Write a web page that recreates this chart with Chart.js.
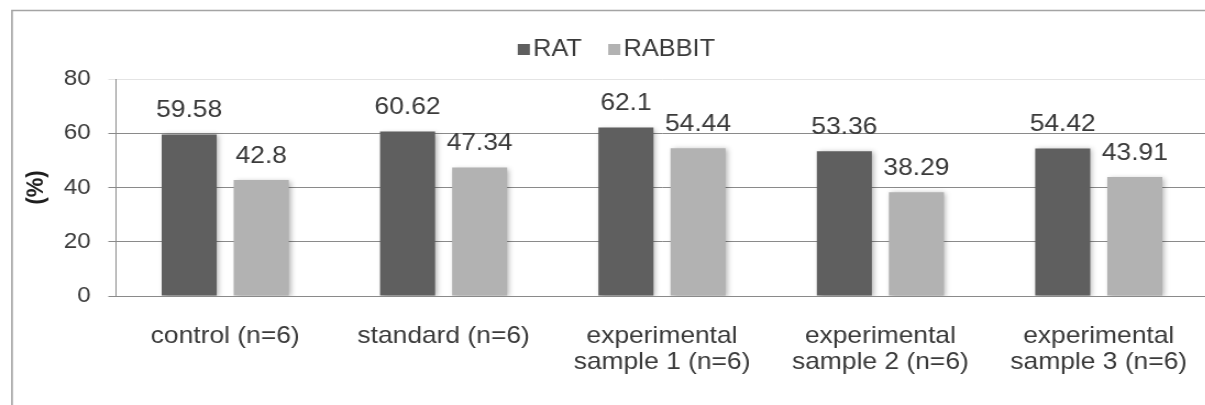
<!DOCTYPE html>
<html>
<head>
<meta charset="utf-8">
<script src="https://cdn.jsdelivr.net/npm/chart.js@4.4.1/dist/chart.umd.min.js"></script>
<style>
  html, body { margin: 0; padding: 0; background: #fff; overflow: hidden; }
  #wrap { width: 1205px; height: 405px; overflow: hidden; }
  canvas { display: block; }
</style>
</head>
<body>
<div id="wrap">
  <!-- drawn at 1104 px wide and shown 10% wider, which widens the lettering;
       the plot runs slightly past the right edge of the frame -->
  <canvas id="chart" width="1104" height="405" style="width:1214.4px;height:405px"></canvas>
</div>
<script>
// ---- data ----
const categories = [
  ['control (n=6)'],
  ['standard (n=6)'],
  ['experimental', 'sample 1 (n=6)'],
  ['experimental', 'sample 2 (n=6)'],
  ['experimental', 'sample 3 (n=6)']
];
const seriesNames = ['RAT', 'RABBIT'];
const ratValues = [59.58, 60.62, 62.1, 53.36, 54.42];
const rabbitValues = [42.8, 47.34, 54.44, 38.29, 43.91];
const yTicks = [0, 20, 40, 60, 80];
const yTitle = '(%)';

// ---- look ----
const FONT = '"Liberation Sans", Arial, sans-serif';
const TEXT = '#3a3a3a';
const GRID = '#8a8a8a';
const RAT_COLOR = '#5f5f5f';
const RABBIT_COLOR = '#b2b2b2';

// white page with the outer frame running off to the right and bottom
const framePlugin = {
  id: 'frame',
  beforeDraw(chart) {
    const { ctx, width, height } = chart;
    ctx.save();
    ctx.fillStyle = '#fff';
    ctx.fillRect(0, 0, width, height);
    ctx.strokeStyle = '#a4a4a4';
    ctx.lineWidth = 1.6;
    ctx.beginPath();
    ctx.moveTo(width + 2, 10.5);
    ctx.lineTo(10.9, 10.5);
    ctx.lineTo(10.9, height + 2);
    ctx.stroke();
    ctx.restore();
  }
};

// soft drop shadow under the bars, then the value printed above each bar
const barPlugin = {
  id: 'barDecor',
  beforeDatasetsDraw(chart) {
    const ctx = chart.ctx;
    ctx.save();
    ctx.shadowColor = 'rgba(0,0,0,0.30)';
    ctx.shadowBlur = 5;
    ctx.shadowOffsetX = 2;
    ctx.shadowOffsetY = 1;
  },
  afterDatasetsDraw(chart) {
    const ctx = chart.ctx;
    ctx.restore();
    ctx.save();
    ctx.font = '24px ' + FONT;
    ctx.fillStyle = TEXT;
    ctx.textAlign = 'center';
    ctx.textBaseline = 'middle';
    chart.data.datasets.forEach((ds, i) => {
      chart.getDatasetMeta(i).data.forEach((bar, j) => {
        ctx.fillText(String(ds.data[j]), bar.x, bar.y - 24);
      });
    });
    ctx.restore();
  }
};

// compact legend: small square right against its label
const legendPlugin = {
  id: 'squareLegend',
  afterDraw(chart) {
    const ctx = chart.ctx;
    ctx.save();
    ctx.font = '23px ' + FONT;
    const box = 11, gap = 3, spacing = 24, centerX = 560.5, baseY = 56;
    const items = chart.data.datasets.map(d => ({
      label: d.label,
      color: d.backgroundColor,
      w: box + gap + ctx.measureText(d.label).width
    }));
    const total = items.reduce((s, it) => s + it.w, 0) + spacing * (items.length - 1);
    let x = centerX - total / 2;
    ctx.textBaseline = 'alphabetic';
    ctx.textAlign = 'left';
    items.forEach(it => {
      ctx.fillStyle = it.color;
      ctx.fillRect(x, baseY - box - 1, box, box);
      ctx.fillStyle = TEXT;
      ctx.fillText(it.label, x + box + gap, baseY);
      x += it.w + spacing;
    });
    ctx.restore();
  }
};

new Chart(document.getElementById('chart'), {
  type: 'bar',
  data: {
    labels: categories,
    datasets: [
      { label: seriesNames[0], data: ratValues, backgroundColor: RAT_COLOR },
      { label: seriesNames[1], data: rabbitValues, backgroundColor: RABBIT_COLOR }
    ]
  },
  options: {
    responsive: false,
    devicePixelRatio: 1,
    animation: false,
    layout: { padding: { top: 79, left: 0, right: 5.5, bottom: 0 } },
    datasets: { bar: { categoryPercentage: 0.66, barPercentage: 0.764 } },
    plugins: {
      legend: { display: false },
      tooltip: { enabled: false }
    },
    scales: {
      x: {
        grid: { display: false },
        border: { color: GRID, width: 1 },
        ticks: {
          color: TEXT,
          font: { family: FONT, size: 24, lineHeight: 1.1 },
          padding: 19,
          maxRotation: 0,
          autoSkip: false
        },
        afterFit(scale) { scale.height = 109; }
      },
      y: {
        min: yTicks[0],
        max: yTicks[yTicks.length - 1],
        afterBuildTicks(scale) { scale.ticks = yTicks.map(v => ({ value: v })); },
        grid: {
          color: c => (c.tick && c.tick.value === yTicks[yTicks.length - 1]) ? '#e4e4e4' : GRID,
          lineWidth: 1,
          tickLength: 7
        },
        border: { color: GRID, width: 1 },
        ticks: {
          color: TEXT,
          font: { family: FONT, size: 22 },
          padding: 16
        },
        title: {
          display: true,
          text: yTitle,
          color: '#1e1e1e',
          font: { family: FONT, size: 22, weight: 'bold' },
          padding: { top: 19.5, bottom: 0 }
        },
        afterFit(scale) { scale.width = 105.5; }
      }
    }
  },
  plugins: [framePlugin, barPlugin, legendPlugin]
});
</script>
</body>
</html>
